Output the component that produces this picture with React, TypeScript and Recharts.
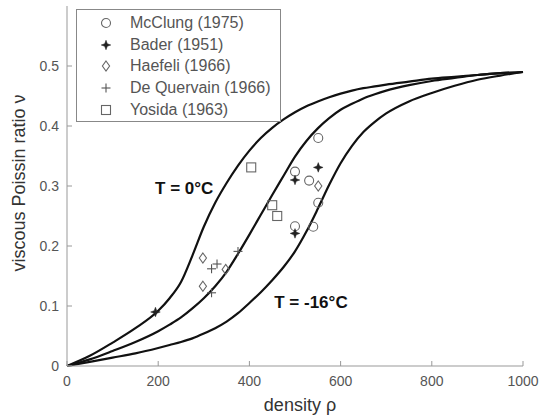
import { ComposedChart, Line, Scatter, XAxis, YAxis, ReferenceDot } from "recharts";

// density grid used for the three model curves
const rhoGrid = [0, 50, 100, 150, 200, 225, 250, 275, 300, 325, 350, 375, 400, 425, 450, 475, 500, 525, 550, 575, 600, 625, 650, 675, 700, 750, 800, 850, 900, 950, 1000];
// T = 0°C
const nuWarm = [0, 0.017, 0.039, 0.063, 0.092, 0.113, 0.14, 0.184, 0.232, 0.272, 0.305, 0.334, 0.359, 0.38, 0.397, 0.411, 0.423, 0.433, 0.441, 0.448, 0.454, 0.459, 0.463, 0.466, 0.469, 0.474, 0.479, 0.482, 0.485, 0.488, 0.49];
// intermediate temperature
const nuMid = [0, 0.011, 0.025, 0.04, 0.058, 0.069, 0.081, 0.096, 0.113, 0.133, 0.157, 0.187, 0.219, 0.252, 0.285, 0.317, 0.349, 0.375, 0.396, 0.413, 0.427, 0.437, 0.446, 0.453, 0.459, 0.468, 0.475, 0.48, 0.485, 0.488, 0.49];
// T = -16°C
const nuCold = [0, 0.007, 0.014, 0.021, 0.03, 0.035, 0.04, 0.046, 0.054, 0.063, 0.074, 0.088, 0.105, 0.123, 0.143, 0.165, 0.191, 0.224, 0.262, 0.302, 0.338, 0.367, 0.39, 0.407, 0.421, 0.441, 0.455, 0.467, 0.477, 0.484, 0.49];

const mcclung = [[500, 0.324], [551, 0.38], [531, 0.309], [551, 0.272], [500, 0.233], [540, 0.232]];
const bader = [[194, 0.09], [500, 0.31], [551, 0.331], [500, 0.221]];
const haefeli = [[298, 0.18], [348, 0.161], [298, 0.133], [551, 0.3]];
const deQuervain = [[329, 0.17], [317, 0.162], [375, 0.191], [317, 0.122]];
const yosida = [[404, 0.331], [450, 0.268], [461, 0.25]];

const xTicks = [0, 200, 400, 600, 800, 1000];
const yTicks = [0, 0.1, 0.2, 0.3, 0.4, 0.5];

const curveData = rhoGrid.map((rho, i) => ({ rho, warm: nuWarm[i], mid: nuMid[i], cold: nuCold[i] }));
const toPts = (arr: number[][]) => arr.map(([rho, nu]) => ({ rho, nu }));

const FONT = "'Liberation Sans', Arial, sans-serif";
const GREY = "#666";

type Kind = "circle" | "star" | "diamond" | "plus" | "square";

function marker(kind: Kind, cx: number, cy: number) {
  switch (kind) {
    case "circle":
      return <circle cx={cx} cy={cy} r={4.5} fill="none" stroke={GREY} strokeWidth={1.1} />;
    case "star": {
      const a = 4.8, w = 1.3;
      const d = `M${cx},${cy - a} L${cx + w},${cy - w} L${cx + a},${cy} L${cx + w},${cy + w} L${cx},${cy + a} L${cx - w},${cy + w} L${cx - a},${cy} L${cx - w},${cy - w} Z`;
      return <path d={d} fill="#222" stroke="#222" strokeWidth={0.5} />;
    }
    case "diamond":
      return <path d={`M${cx},${cy - 5} L${cx + 3.6},${cy} L${cx},${cy + 5} L${cx - 3.6},${cy} Z`} fill="none" stroke={GREY} strokeWidth={1.1} />;
    case "plus":
      return (
        <g stroke="#555" strokeWidth={1.1}>
          <line x1={cx - 4.5} y1={cy} x2={cx + 4.5} y2={cy} />
          <line x1={cx} y1={cy - 4.5} x2={cx} y2={cy + 4.5} />
        </g>
      );
    default:
      return <rect x={cx - 4.5} y={cy - 4.5} width={9} height={9} fill="none" stroke={GREY} strokeWidth={1.1} />;
  }
}

const shapeOf = (kind: Kind) => (p: any) => marker(kind, p.cx, p.cy);

const series: { name: string; kind: Kind; data: number[][] }[] = [
  { name: "McClung (1975)", kind: "circle", data: mcclung },
  { name: "Bader (1951)", kind: "star", data: bader },
  { name: "Haefeli (1966)", kind: "diamond", data: haefeli },
  { name: "De Quervain (1966)", kind: "plus", data: deQuervain },
  { name: "Yosida (1963)", kind: "square", data: yosida },
];

const tickStyle = { fontSize: 14, fill: "#555", fontFamily: FONT };

export default function App() {
  return (
    <div style={{ position: "absolute", left: 0, top: 0, width: 539, height: 417, background: "#fff" }}>
      <ComposedChart width={539} height={417} data={curveData} margin={{ top: 6, right: 16, bottom: 0, left: 0 }}>
        <XAxis
          dataKey="rho"
          type="number"
          domain={[0, 1000]}
          ticks={xTicks}
          height={51}
          stroke="#999"
          tickSize={-5}
          tickMargin={15}
          tick={tickStyle}
          label={{
            content: (p: any) => (
              <text x={p.viewBox.x + p.viewBox.width / 2 + 5} y={411} textAnchor="middle" fontSize={18} fill="#333" fontFamily={FONT}>
                density ρ
              </text>
            ),
          }}
        />
        <YAxis
          type="number"
          domain={[0, 0.6]}
          ticks={yTicks}
          width={67}
          stroke="#999"
          tickSize={-5}
          tickMargin={13}
          tick={tickStyle}
          label={{
            content: () => (
              <text x={19} y={183} transform="rotate(-90 19 183)" textAnchor="middle" dominantBaseline="central" fontSize={18} fill="#333" fontFamily={FONT}>
                viscous Poissin ratio ν
              </text>
            ),
          }}
        />
        <Line dataKey="warm" type="monotone" stroke="#111" strokeWidth={2.2} dot={false} isAnimationActive={false} />
        <Line dataKey="mid" type="monotone" stroke="#111" strokeWidth={2.2} dot={false} isAnimationActive={false} />
        <Line dataKey="cold" type="monotone" stroke="#111" strokeWidth={2.2} dot={false} isAnimationActive={false} />
        {series.map((s) => (
          <Scatter key={s.name} name={s.name} data={toPts(s.data)} dataKey="nu" shape={shapeOf(s.kind)} isAnimationActive={false} />
        ))}
        <ReferenceDot x={257} y={0.2975} r={0} fill="none" stroke="none"
          label={{ value: "T = 0°C", position: "center", fontSize: 17, fontWeight: "bold", fill: "#111", fontFamily: FONT }} />
        <ReferenceDot x={535} y={0.107} r={0} fill="none" stroke="none"
          label={{ value: "T = -16°C", position: "center", fontSize: 17, fontWeight: "bold", fill: "#111", fontFamily: FONT }} />
      </ComposedChart>
      <div
        style={{
          position: "absolute", left: 76, top: 9, width: 205, height: 113, boxSizing: "border-box",
          border: "1px solid #888", background: "#fff", paddingTop: 2, fontFamily: FONT, fontSize: 16, color: "#555",
        }}
      >
        {series.map((s) => (
          <div key={s.name} style={{ position: "relative", height: 21.7, lineHeight: "21.7px", paddingLeft: 53, whiteSpace: "nowrap" }}>
            <svg width={14} height={14} style={{ position: "absolute", left: 22, top: 4 }}>
              {marker(s.kind, 7, 7)}
            </svg>
            {s.name}
          </div>
        ))}
      </div>
    </div>
  );
}
